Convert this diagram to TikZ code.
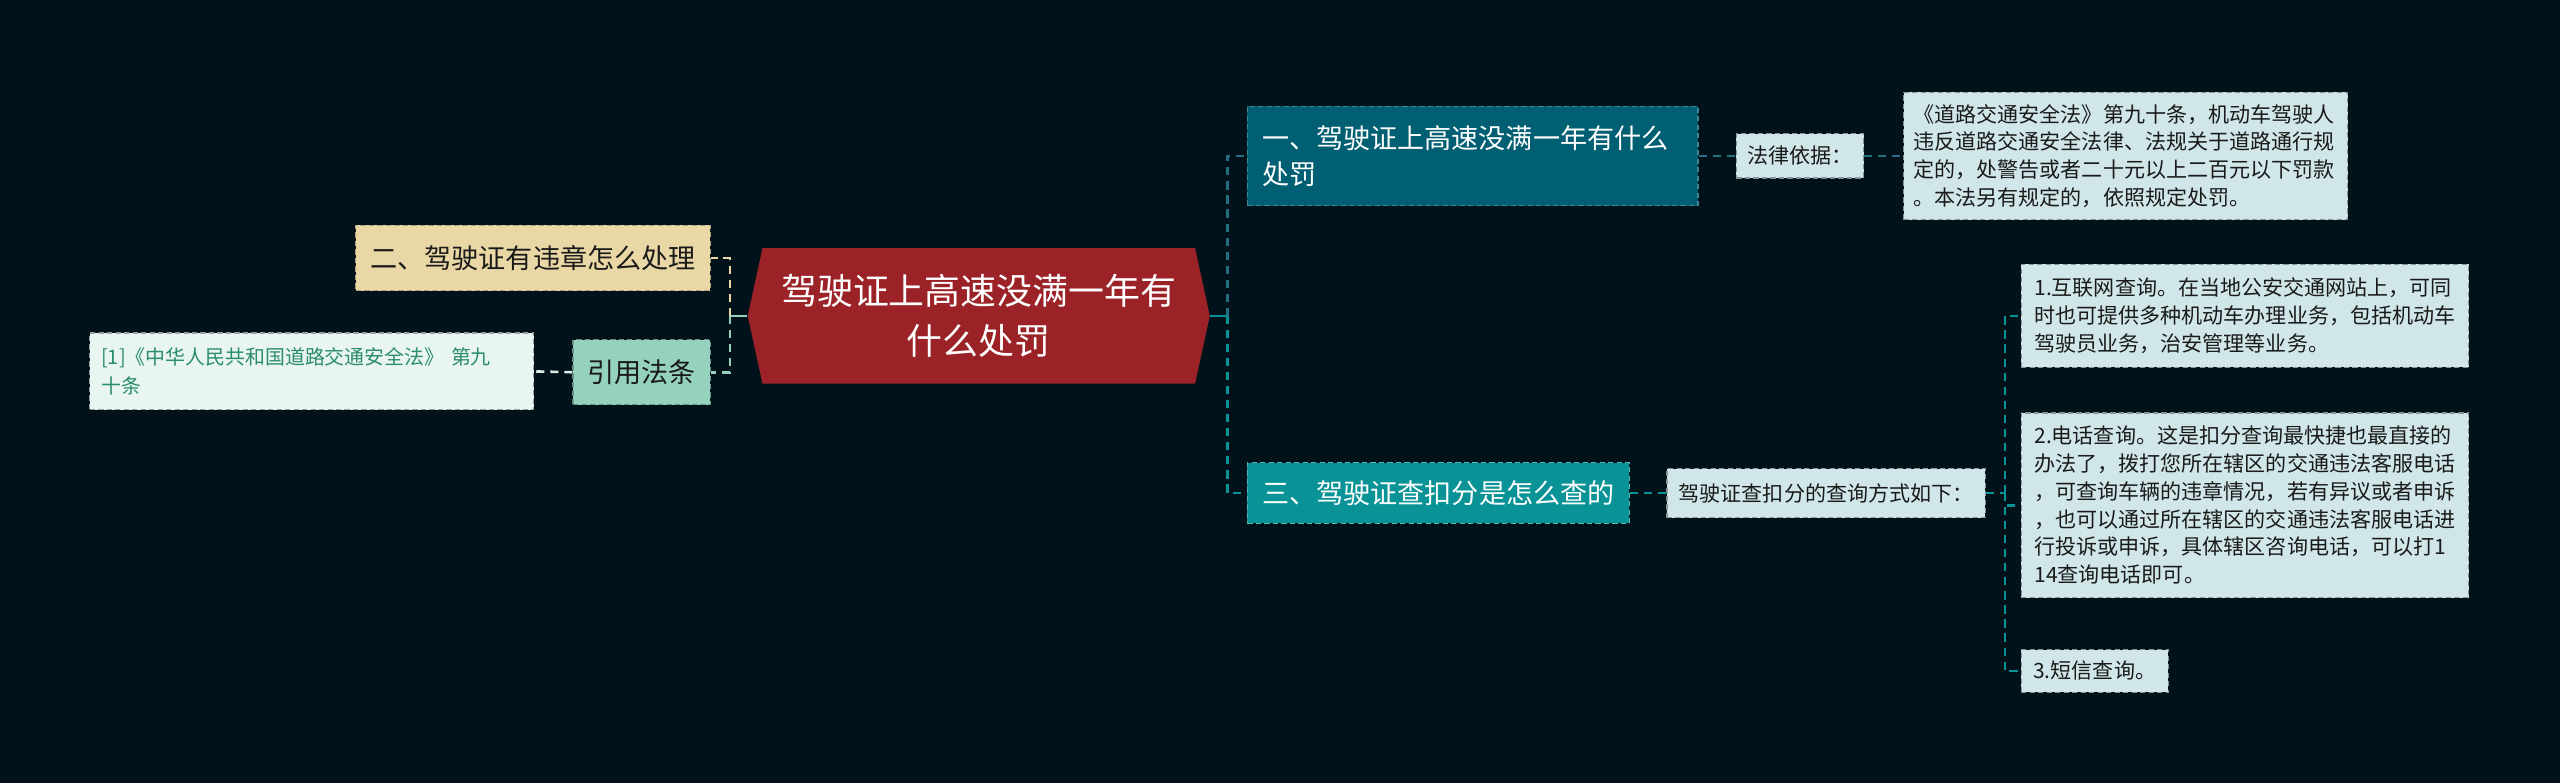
\documentclass[tikz,border=0pt]{standalone}
\usepackage{fontspec}
\setmainfont{Noto Sans CJK SC}
\usetikzlibrary{calc}
\definecolor{bg}{HTML}{02121B}
\definecolor{hubred}{HTML}{9B2226}
\definecolor{cone}{HTML}{005F73}
\definecolor{cthree}{HTML}{0A9396}
\definecolor{cbeige}{HTML}{E9D8A6}
\definecolor{cmint}{HTML}{94D2BD}
\definecolor{cleaf}{HTML}{D0E6E8}
\definecolor{cref}{HTML}{E8F5F0}
\definecolor{reftext}{HTML}{2B8C6C}
\definecolor{eone}{HTML}{226F80}
\definecolor{txtdark}{HTML}{1A1A1A}
\tikzset{
  boxnode/.style={rectangle, draw, line width=0.35pt, dash pattern=on 1.6pt off 1pt, inner ysep=0pt, anchor=center},
  mainbox/.style={boxnode, font=\fontsize{8.3pt}{11pt}\selectfont},
  leafbox/.style={boxnode, fill=cleaf, draw=cleaf!65!black, text=txtdark, font=\fontsize{6.45pt}{8.5pt}\selectfont},
  conn/.style={line width=0.8pt, dash pattern=on 2.5pt off 1.8pt},
  stub/.style={line width=0.8pt}
}
\begin{document}
\begin{tikzpicture}[x=0.5pt,y=-0.5pt]
\fill[bg] (0,0) rectangle (1568,479.6);
\useasboundingbox (0,0) rectangle (1568,479.6);

% central hexagon
\fill[hubred] (458,193.5) -- (467,152) -- (732,152) -- (741,193.5) -- (732,235) -- (467,235) -- cycle;
\node[minimum width=141.5pt, minimum height=41.5pt, inner sep=0pt, align=center, text=white,
      font=\fontsize{11pt}{15.5pt}\selectfont] (c) at (599.5,193.5) {驾驶证上高速没满一年有\\什么处罚};

% left side
\node[mainbox, fill=cbeige, draw=cbeige!75!black, text=txtdark, minimum width=108.5pt, minimum height=20pt, align=center]
  (n2) at (326.5,158) {二、驾驶证有违章怎么处理};
\node[mainbox, fill=cmint, draw=cmint!70!black, text=txtdark, minimum width=42pt, minimum height=20pt, align=center]
  (ref) at (393,228) {引用法条};
\node[boxnode, fill=cref, draw=cref!65!black, text=reftext, text width=129pt, inner xsep=3.5pt, minimum height=23.5pt, align=left,
      font=\fontsize{6.1pt}{9pt}\selectfont]
  (law1) at (191,227.5) {[1]《中华人民共和国道路交通安全法》 第九\\十条};

% right side main branches
\node[mainbox, fill=cone, draw=cone!75!white, text=white, text width=129pt, inner xsep=4.5pt, minimum height=30.5pt, align=left]
  (b1) at (902,95.5) {一、驾驶证上高速没满一年有什么\\处罚};
\node[mainbox, fill=cthree, draw=cthree!70!white, text=white, minimum width=117pt, minimum height=18.5pt, align=center]
  (b3) at (881,302) {三、驾驶证查扣分是怎么查的};

% leaves
\node[leafbox, minimum width=38.5pt, minimum height=13.5pt, align=center] (law) at (1102.5,95.5) {法律依据：};
\node[leafbox, text width=130pt, inner xsep=3pt, minimum height=39pt, align=left] (lawtext) at (1302,95.5)
  {《道路交通安全法》第九十条，机动车驾驶人\\违反道路交通安全法律、法规关于道路通行规\\定的，处警告或者二十元以上二百元以下罚款\\。本法另有规定的，依照规定处罚。};
\node[leafbox, minimum width=97.5pt, minimum height=15pt, align=center] (how) at (1118.5,302) {驾驶证查扣分的查询方式如下：};
\node[leafbox, text width=129pt, inner xsep=4pt, minimum height=31.5pt, align=left] (q1) at (1375,193.5)
  {1.互联网查询。在当地公安交通网站上，可同\\时也可提供多种机动车办理业务，包括机动车\\驾驶员业务，治安管理等业务。};
\node[leafbox, text width=129pt, inner xsep=4pt, minimum height=56.5pt, align=left] (q2) at (1375,309.5)
  {2.电话查询。这是扣分查询最快捷也最直接的\\办法了，拨打您所在辖区的交通违法客服电话\\，可查询车辆的违章情况，若有异议或者申诉\\，也可以通过所在辖区的交通违法客服电话进\\行投诉或申诉，具体辖区咨询电话，可以打1\\14查询电话即可。};
\node[leafbox, minimum width=45pt, minimum height=13pt, align=center] (q3) at (1283,411) {3.短信查询。};

% junctions
\coordinate (jL) at (447,193.5);
\coordinate (jR) at (752,193.5);
\coordinate (jH) at (1228,302);

% connectors left
\draw[stub, cmint] (c.west) -- (jL);
\draw[conn, cbeige] (jL) |- (n2.east);
\draw[conn, cmint] (jL) |- (ref.east);
\draw[conn, cref!80!cmint] (ref.west) -- (law1.east);

% connectors right
\draw[stub, cthree] (c.east) -- (jR);
\draw[conn, eone] (jR) |- (b1.west);
\draw[conn, cthree] (jR) |- (b3.west);
\draw[conn, eone] (b1.east) -- (law.west);
\draw[conn, eone] (law.east) -- (lawtext.west);
\draw[conn, cthree] (b3.east) -- (how.west);
\draw[conn, cthree] (how.east) -- (jH);
\draw[conn, cthree] (jH) |- (q1.west);
\draw[conn, cthree] (jH) |- (q2.west);
\draw[conn, cthree] (jH) |- (q3.west);
\end{tikzpicture}
\end{document}
